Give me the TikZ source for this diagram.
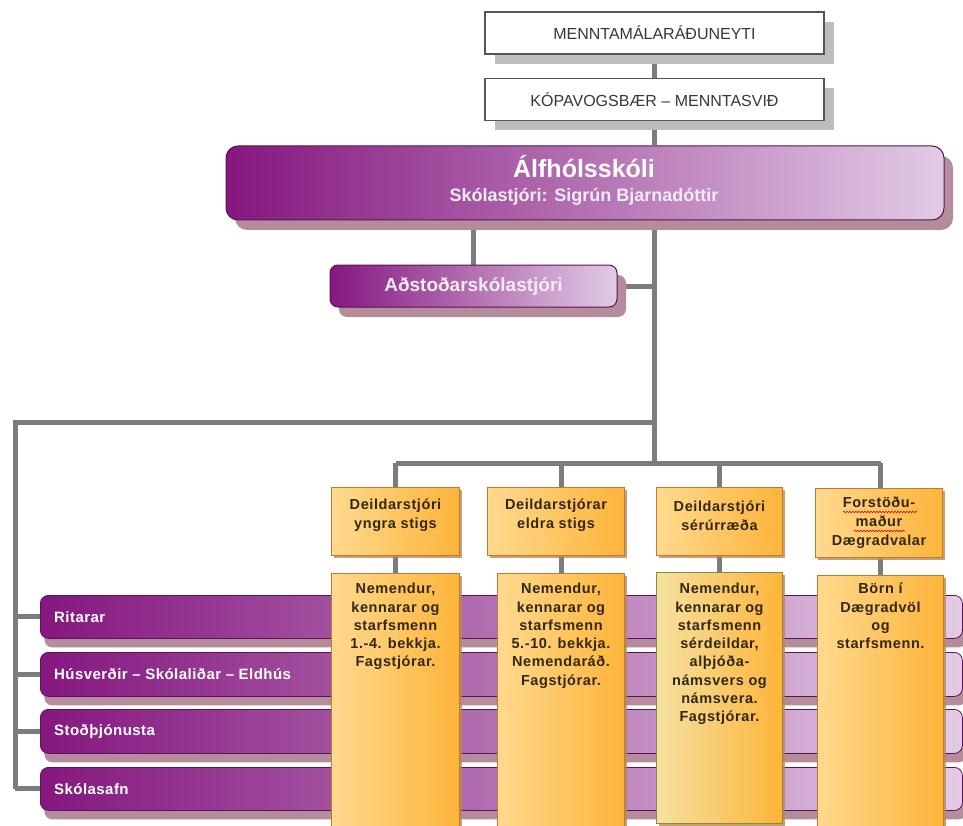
\documentclass[tikz,border=0pt]{standalone}
\usepackage{fontspec}
\setmainfont{Liberation Sans}
\newfontfamily\spacedfont[LetterSpace=4]{Liberation Sans}
\newfontfamily\barfont[LetterSpace=3]{Liberation Sans}
\usetikzlibrary{shadows,decorations.pathmorphing,backgrounds}
\definecolor{linegray}{HTML}{7C7C7C}
\definecolor{boxgray}{HTML}{555555}
\definecolor{shadgray}{HTML}{BDBDBD}
\definecolor{pdark}{HTML}{85177F}
\definecolor{plight}{HTML}{E2CBE5}
\definecolor{pborder}{HTML}{5A1456}
\definecolor{pshadow}{HTML}{B48C9C}
\definecolor{olight}{HTML}{FFF0D4}
\definecolor{omid}{HTML}{FFD98E}
\definecolor{odark}{HTML}{FDB43A}
\definecolor{oborder}{HTML}{C27A2E}
\definecolor{oshadow}{HTML}{B88A55}
\definecolor{gborder}{HTML}{8A8A3E}
\definecolor{gmid}{HTML}{F5E2A0}
\definecolor{tbrown}{HTML}{33270F}
\definecolor{ptext}{HTML}{F6EAF6}
\begin{document}
\begin{tikzpicture}[x=1pt,y=-1pt,
  conn/.style={draw=linegray,line width=5pt},
  topbox/.style={draw=boxgray,line width=1.2pt,fill=white,inner sep=0pt,
    minimum width=339pt,minimum height=42pt,text=black!78,
    font=\fontsize{16}{18}\selectfont,
    drop shadow={shadow xshift=10pt,shadow yshift=-10pt,fill=shadgray,opacity=1}},
  purplebox/.style={draw=pborder,line width=1pt,left color=pdark,right color=plight,
    inner sep=0pt,text=ptext,font=\bfseries,
    drop shadow={shadow xshift=9pt,shadow yshift=-10pt,fill=pshadow,opacity=1}},
  barbox/.style={draw=pborder,line width=0.8pt,left color=pdark,right color=plight,
    rounded corners=8pt,inner sep=0pt,minimum width=922pt,
    drop shadow={shadow xshift=4pt,shadow yshift=-9pt,fill=pshadow,opacity=1}},
  bartext/.style={anchor=west,text=white,font=\barfont\fontsize{15}{17}\selectfont\bfseries,inner sep=0pt},
  headbox/.style={draw=oborder,line width=1pt,left color=omid,middle color=olight,right color=odark,
    inner sep=0pt,minimum height=68pt,
    drop shadow={shadow xshift=2pt,shadow yshift=-2pt,fill=oshadow,opacity=0.8}},
  contbox/.style={draw=oborder,line width=1pt,left color=omid,middle color=olight,right color=odark,
    inner sep=0pt,minimum height=270pt,
    drop shadow={shadow xshift=2pt,shadow yshift=-2pt,fill=oshadow,opacity=0.8}},
  headtext/.style={align=center,text=tbrown,inner sep=0pt,
    font=\spacedfont\fontsize{14.5}{19}\selectfont\bfseries},
  conttext/.style={align=center,text=tbrown,inner sep=0pt,anchor=north,
    font=\spacedfont\fontsize{14.5}{18.3}\selectfont\bfseries},
  squiggle/.style={draw=red!85!black,line width=0.6pt,decorate,
    decoration={snake,segment length=3pt,amplitude=0.8pt}}
]
\useasboundingbox (0,0) rectangle (963,826);
\clip (0,0) rectangle (963,826);

% top boxes
\node[topbox] (mrn) at (654.5,33) {MENNTAMÁLARÁÐUNEYTI};
\node[topbox] (kop) at (654.5,99.5) {KÓPAVOGSBÆR – MENNTASVIÐ};

% main school box
\node[purplebox,rounded corners=12pt,minimum width=718pt,minimum height=74pt] (skoli) at (585,183) {};
\node[text=white,inner sep=0pt,font=\fontsize{25}{27}\selectfont\bfseries] (skolit) at (584,167) {Álfhólsskóli};
\node[text=ptext,inner sep=0pt,font=\fontsize{18}{20}\selectfont\bfseries] (skolis) at (584,197) {Skólastjóri: Sigrún Bjarnadóttir};

% assistant principal
\node[purplebox,rounded corners=8pt,minimum width=287pt,minimum height=42pt,
  font=\fontsize{19}{21}\selectfont\bfseries] (adst) at (473.5,286) {Aðstoðarskólastjóri};

% connector coordinates
\coordinate (j1) at (654.5,422);
\coordinate (j2) at (654.5,463);
\coordinate (lc) at (15,422);

% purple bars
\node[barbox,anchor=north west,minimum height=43pt] (b1) at (40,595) {};
\node[barbox,anchor=north west,minimum height=44pt] (b2) at (40,652) {};
\node[barbox,anchor=north west,minimum height=44pt] (b3) at (40,709) {};
\node[barbox,anchor=north west,minimum height=43pt] (b4) at (40,767) {};
\node[bartext] (b1t) at ([xshift=14pt]b1.west) {Ritarar};
\node[bartext] (b2t) at ([xshift=14pt]b2.west) {Húsverðir – Skólaliðar – Eldhús};
\node[bartext] (b3t) at ([xshift=14pt]b3.west) {Stoðþjónusta};
\node[bartext] (b4t) at ([xshift=14pt]b4.west) {Skólasafn};

% orange header boxes
\node[headbox,anchor=north west,minimum width=128pt] (h1) at (331,487) {};
\node[headbox,anchor=north west,minimum width=137pt] (h2) at (487,487) {};
\node[headbox,anchor=north west,minimum width=126pt] (h3) at (656,487) {};
\node[headbox,anchor=north west,minimum width=127pt,minimum height=69pt] (h4) at (815,488) {};
\node[headtext] (h1t) at ([yshift=6pt]h1.center) {Deildarstjóri\\yngra stigs};
\node[headtext] (h2t) at ([yshift=6pt]h2.center) {Deildarstjórar\\eldra stigs};
\node[headtext] (h3t) at ([yshift=6pt]h3.center) {Deildarstjóri\\sérúrræða};
\node[headtext] (h4t) at (h4.center) {Forstöðu-\\maður\\Dægradvalar};
\draw[squiggle] ([shift={(-36pt,11pt)}]h4.center) -- ([shift={(38pt,11pt)}]h4.center);
\draw[squiggle] ([shift={(-25pt,-8pt)}]h4.center) -- ([shift={(26pt,-8pt)}]h4.center);

% orange content boxes
\node[contbox,anchor=north west,minimum width=128pt] (c1) at (331,573) {};
\node[contbox,anchor=north west,minimum width=127pt] (c2) at (497,573) {};
\node[contbox,anchor=north west,minimum width=126pt,minimum height=251pt,
  draw=gborder,left color=gmid] (c3) at (656,572) {};
\node[contbox,anchor=north west,minimum width=126pt] (c4) at (817,575) {};
\node[conttext] (c1t) at ([yshift=-10pt]c1.north) {Nemendur,\\kennarar og\\starfsmenn\\1.-4. bekkja.\\Fagstjórar.};
\node[conttext] (c2t) at ([yshift=-10pt]c2.north) {Nemendur,\\kennarar og\\starfsmenn\\5.-10. bekkja.\\Nemendaráð.\\Fagstjórar.};
\node[conttext] (c3t) at ([yshift=-11pt]c3.north) {Nemendur,\\kennarar og\\starfsmenn\\sérdeildar,\\alþjóða-\\námsvers og\\námsvera.\\Fagstjórar.};
\node[conttext] (c4t) at ([yshift=-8pt]c4.north) {Börn í\\Dægradvöl\\og\\starfsmenn.};

% connectors, behind the boxes
\begin{pgfonlayer}{background}
\draw[conn] (mrn.south) -- (kop.north);
\draw[conn] (kop.south) -- (kop.south |- skoli.north);
\draw[conn] (kop.south |- skoli.south) -- (j2);
\draw[conn] (adst.north |- skoli.south) -- (adst.north);
\draw[conn] (adst.east) -- (adst.east -| j2);
\draw[conn] (j1) -- (lc) -- (lc |- b4.west);
\draw[conn] (lc |- b1.west) -- (b1.west);
\draw[conn] (lc |- b2.west) -- (b2.west);
\draw[conn] (lc |- b3.west) -- (b3.west);
\draw[conn] (lc |- b4.west) -- (b4.west);
\draw[conn] (h1.north |- j2) -- (c4.north |- j2);
\draw[conn] (h1.north |- j2) -- (h1.north);
\draw[conn] (c2.north |- j2) -- (c2.north |- h2.north);
\draw[conn] (h3.north |- j2) -- (h3.north);
\draw[conn] (c4.north |- j2) -- (c4.north |- h4.north);
\draw[conn] (h1.south) -- (c1.north);
\draw[conn] (c2.north |- h2.south) -- (c2.north);
\draw[conn] (h3.south) -- (c3.north);
\draw[conn] (c4.north |- h4.south) -- (c4.north);
\end{pgfonlayer}
\end{tikzpicture}
\end{document}
